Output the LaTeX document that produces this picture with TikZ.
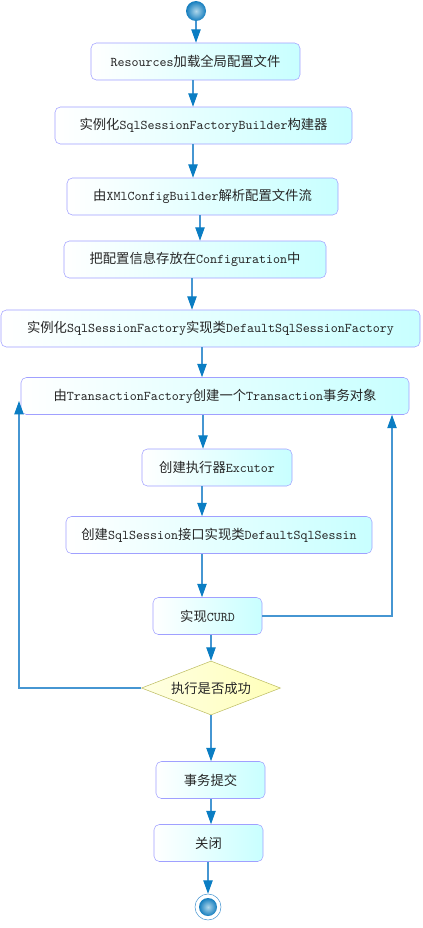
\documentclass[tikz,border=0pt]{standalone}
\usepackage{fontspec}
\usepackage{xcolor}
\usepackage{tikz}
\usetikzlibrary{arrows.meta,shapes.geometric}
\newfontfamily\cjk{Noto Sans CJK SC}
\definecolor{lineblue}{RGB}{70,150,210}
\definecolor{tipblue}{RGB}{10,125,195}
\definecolor{boxedge}{RGB}{160,160,255}
\definecolor{boxcyan}{RGB}{200,255,255}
\definecolor{dmdedge}{RGB}{190,190,100}
\definecolor{dmdfill}{RGB}{255,255,185}
\definecolor{ballin}{RGB}{175,215,235}
\definecolor{ballout}{RGB}{20,125,190}
\newcommand{\tl}[1]{\texttt{#1}}
\tikzset{
    act/.style={draw=boxedge, rounded corners=4pt, left color=white, right color=boxcyan,
        minimum height=37*0.75pt, inner sep=0pt, font=\cjk\fontsize{10}{12}\selectfont,
        text=black!85},
    boxw/.style={minimum width=#1*0.75pt},
    flow/.style={draw=lineblue, line width=0.8pt, -{Triangle[length=10pt,width=7pt,color=tipblue]}},
    decide/.style={diamond, draw=dmdedge, left color=white!60!dmdfill, right color=dmdfill,
        minimum width=139*0.75pt, minimum height=54*0.75pt, inner sep=0pt, aspect=2.6,
        font=\cjk\fontsize{10}{12}\selectfont, text=black!85},
    bead/.style={inner color=ballin, outer color=ballout}
}
\begin{document}
\begin{tikzpicture}[x=0.75pt, y=-0.75pt]
        \path[use as bounding box] (0,0) rectangle (423,928);
        \node[circle, minimum size=20*0.75pt, inner sep=0pt, bead] (start) at (196,11) {};
        \node[act, boxw=209] (b1) at (195.5,61.5) {\tl{Resources}加载全局配置文件};
        \node[act, boxw=297] (b2) at (203.5,125.5) {实例化\tl{SqlSessionFactoryBuilder}构建器};
        \node[act, boxw=271] (b3) at (202.5,196.5) {由\tl{XMlConfigBuilder}解析配置文件流};
        \node[act, boxw=262] (b4) at (195,259.5) {把配置信息存放在\tl{Configuration}中};
        \node[act, boxw=419] (b5) at (210.5,328.5) {实例化\tl{SqlSessionFactory}实现类\tl{DefaultSqlSessionFactory}};
        \node[act, boxw=388] (b6) at (215,396) {由\tl{TransactionFactory}创建一个\tl{Transaction}事务对象};
        \node[act, boxw=150] (b7) at (217,467.5) {创建执行器\tl{Excutor}};
        \node[act, boxw=306] (b8) at (219,535) {创建\tl{SqlSession}接口实现类\tl{DefaultSqlSessin}};
        \node[act, boxw=109] (b9) at (207.5,616) {实现\tl{CURD}};
        \node[decide] (ok) at (211,688) {执行是否成功};
        \node[act, boxw=109] (b10) at (210.5,780) {事务提交};
        \node[act, boxw=109] (b11) at (208.5,843) {关闭};
        \node[circle, draw=lineblue, fill=white, minimum size=26*0.75pt, inner sep=0pt] (stop) at (208,907) {};
        \shade[bead] (stop.center) circle (9*0.75pt);
        \draw[flow] (start.south) -- (start.south |- b1.north);
        \draw[flow] (b1.south -| 193,0) -- (b2.north -| 193,0);
        \draw[flow] (b2.south -| 193,0) -- (b3.north -| 193,0);
        \draw[flow] (b3.south -| 200,0) -- (b4.north -| 200,0);
        \draw[flow] (b4.south -| 192,0) -- (b5.north -| 192,0);
        \draw[flow] (b5.south -| 202,0) -- (b6.north -| 202,0);
        \draw[flow] (b6.south -| 203,0) -- (b7.north -| 203,0);
        \draw[flow] (b7.south -| 202,0) -- (b8.north -| 202,0);
        \draw[flow] (b8.south -| 202,0) -- (b9.north -| 202,0);
        \draw[flow] (b9.south -| 211,0) -- (ok.north);
        \draw[flow] (ok.south) -- (b10.north -| ok.south);
        \draw[flow] (b10.south -| 211,0) -- (b11.north -| 211,0);
        \draw[flow] (b11.south -| 208,0) -- (stop.north);
        \coordinate (back) at (19,401);
        \draw[flow] (ok.west) -| (back);
        \draw[flow] (b9.east) -| (b6.south -| 392,0);
    \end{tikzpicture}
\end{document}
